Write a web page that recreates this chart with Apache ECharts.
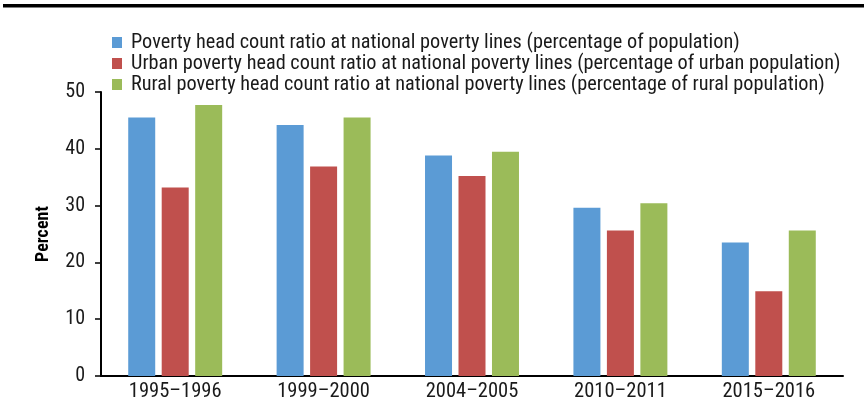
<!DOCTYPE html>
<html>
<head>
<meta charset="utf-8">
<style>
  html, body { margin: 0; padding: 0; background: #fff; }
  #chart { width: 864px; height: 419px; }
</style>
<script src="https://cdn.jsdelivr.net/npm/echarts@6/dist/echarts.min.js"></script>
</head>
<body>
<div id="chart"></div>
<script>
// Survey periods along the horizontal axis
const periods = ['1995–1996', '1999–2000', '2004–2005', '2010–2011', '2015–2016'];

// Poverty head count ratios, percent
const nationalRatio = [45.5, 44.2, 38.8, 29.6, 23.5];
const urbanRatio = [33.2, 36.9, 35.2, 25.6, 14.9];
const ruralRatio = [47.7, 45.5, 39.5, 30.4, 25.6];

const seriesNames = [
  'Poverty head count ratio at national poverty lines (percentage of population)',
  'Urban poverty head count ratio at national poverty lines (percentage of urban population)',
  'Rural poverty head count ratio at national poverty lines (percentage of rural population)'
];

const yTicks = [0, 10, 20, 30, 40, 50];

const FONT = "'Roboto Condensed', 'Liberation Sans', sans-serif";
const TEXT = '#1a1a1a';
const colors = ['#5B9BD5', '#C0504D', '#9BBB59'];

const chart = echarts.init(document.getElementById('chart'), null, { renderer: 'canvas' });

const barSeries = [nationalRatio, urbanRatio, ruralRatio].map((vals, i) => ({
  name: seriesNames[i],
  type: 'bar',
  data: vals,
  barWidth: 27,
  barGap: '24%',
  itemStyle: { color: colors[i] },
  emphasis: { disabled: true }
}));

chart.setOption({
  animation: false,
  textStyle: { fontFamily: FONT },
  graphic: [{
    type: 'rect',
    shape: { x: 3, y: 4, width: 861, height: 3.5 },
    style: { fill: '#000' },
    silent: true
  }],
  legend: {
    orient: 'vertical',
    left: 112,
    top: 32,
    padding: 0,
    itemWidth: 10,
    itemHeight: 11,
    itemGap: 0,
    icon: 'rect',
    selectedMode: false,
    textStyle: { fontFamily: FONT, fontSize: 20.3, color: TEXT, padding: [0, 0, 0, 4], lineHeight: 21 },
    data: seriesNames
  },
  grid: { left: 101, right: 21, top: 92, bottom: 43, containLabel: false },
  xAxis: {
    type: 'category',
    data: periods,
    axisLine: { show: true, lineStyle: { color: '#000', width: 2 } },
    axisTick: { show: false },
    axisLabel: { fontFamily: FONT, fontSize: 20.5, color: TEXT, margin: 5 },
    splitLine: { show: false }
  },
  yAxis: {
    type: 'value',
    min: yTicks[0],
    max: yTicks[yTicks.length - 1],
    interval: 10,
    name: 'Percent',
    nameLocation: 'middle',
    nameGap: 49,
    nameRotate: 90,
    nameTextStyle: { fontFamily: FONT, fontSize: 18, fontWeight: 'bold', color: '#000' },
    axisLine: { show: true, lineStyle: { color: '#000', width: 2 } },
    axisTick: { show: true, inside: false, length: 6, lineStyle: { color: '#000', width: 1.5 } },
    axisLabel: { fontFamily: FONT, fontSize: 20, color: TEXT, margin: 16 },
    splitLine: { show: false }
  },
  series: barSeries
});
</script>
</body>
</html>
